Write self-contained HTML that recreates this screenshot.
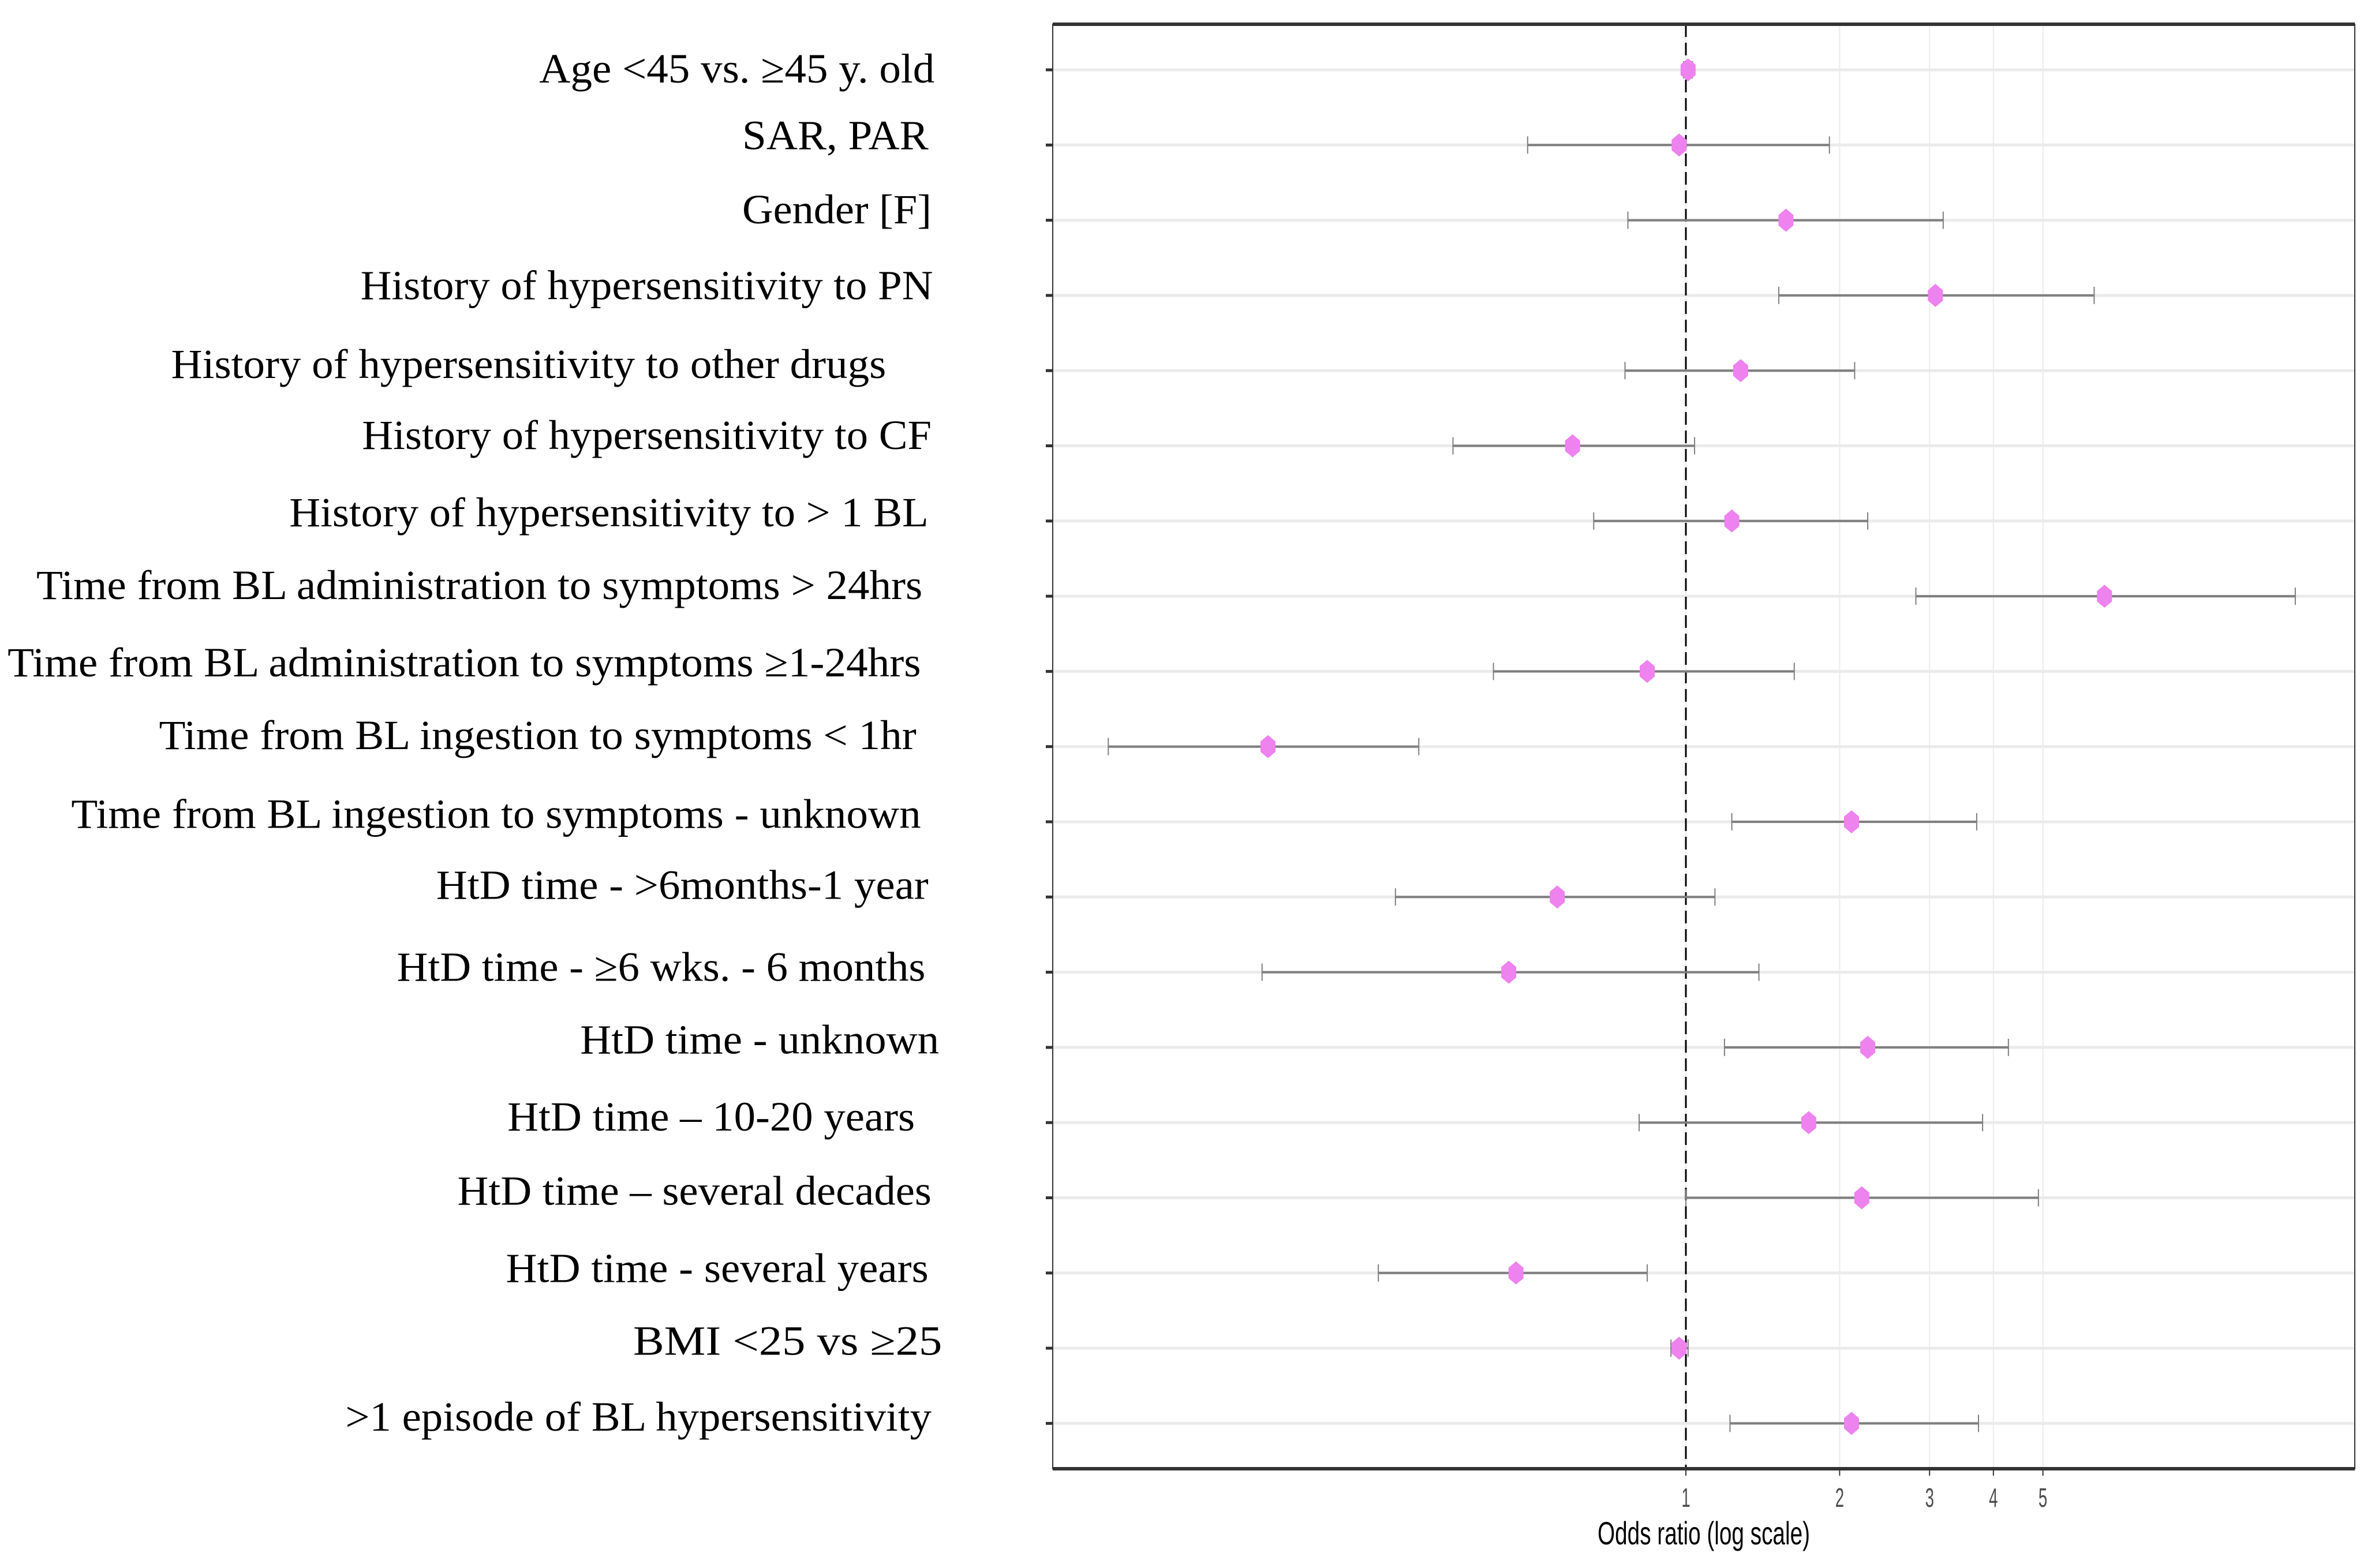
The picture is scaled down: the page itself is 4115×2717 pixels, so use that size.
<!DOCTYPE html>
<html><head><meta charset="utf-8"><style>
html,body{margin:0;padding:0;background:#fff;}
svg{display:block;}
</style></head><body>
<svg id="chart" width="4115" height="2717" viewBox="0 0 4115 2717" xmlns="http://www.w3.org/2000/svg">
<rect x="0" y="0" width="4115" height="2717" fill="#fff"/>
<g id="grid"></g>
<g id="marks"></g>
<g id="labels"></g>
<g id="axis"></g>
</svg>
<script>
const categories = [
 "Age <45 vs. \u226545 y. old","SAR, PAR","Gender [F]","History of hypersensitivity to PN",
 "History of hypersensitivity to other drugs","History of hypersensitivity to CF",
 "History of hypersensitivity to > 1 BL","Time from BL administration to symptoms > 24hrs",
 "Time from BL administration to symptoms \u22651-24hrs","Time from BL ingestion to symptoms < 1hr",
 "Time from BL ingestion to symptoms - unknown","HtD time - >6months-1 year",
 "HtD time - \u22656 wks. - 6 months","HtD time - unknown","HtD time \u2013 10-20 years",
 "HtD time \u2013 several decades","HtD time - several years","BMI <25 vs   \u226525",
 ">1 episode of BL hypersensitivity"];
const oddsRatio = [1.01,0.97,1.57,3.08,1.28,0.60,1.23,6.6,0.84,0.152,2.11,0.56,0.45,2.27,1.74,2.21,0.465,0.97,2.11];
const ciLower   = [0.99,0.49,0.77,1.52,0.76,0.35,0.66,2.82,0.42,0.074,1.23,0.27,0.148,1.19,0.81,1.00,0.25,0.935,1.22];
const ciUpper   = [1.03,1.91,3.19,6.3,2.14,1.04,2.27,15.6,1.63,0.30,3.71,1.14,1.39,4.28,3.81,4.9,0.84,1.01,3.74];
const xTicks = [1,2,3,4,5];
const xTickLabels = ["1","2","3","4","5"];

const NS="http://www.w3.org/2000/svg";
const S=4115/1568;
const P={left:1824,right:4080,top:42,bottom:2545};
function xScale(v){return 2921+885*Math.log10(v);}
function yScale(i){return 121+i*130.3;}
function mk(tag,attrs,parent){const e=document.createElementNS(NS,tag);for(const k in attrs)e.setAttribute(k,attrs[k]);parent.appendChild(e);return e;}
const grid=document.getElementById('grid'),marks=document.getElementById('marks'),labels=document.getElementById('labels'),axis=document.getElementById('axis');

xTicks.forEach((t,i)=>{
 const l=mk('line',{x1:xScale(t),x2:xScale(t),y1:P.top,y2:P.bottom,stroke:'#ebebeb','stroke-width':2},grid);
 
 
});
categories.forEach((c,i)=>{
 const l=mk('line',{x1:P.left,x2:P.right,y1:yScale(i),y2:yScale(i),stroke:'#ebebeb','stroke-width':5},grid);
 
 
});
const ref=mk('line',{x1:xScale(1),x2:xScale(1),y1:P.top,y2:P.bottom,stroke:'#000','stroke-width':3,'stroke-dasharray':'22,10'},grid);



categories.forEach((c,i)=>{
 const y=yScale(i),lo=xScale(ciLower[i]),hi=xScale(ciUpper[i]),pt=xScale(oddsRatio[i]);
 const g=mk('g',{},marks);
 
 
 const ci=mk('line',{x1:lo,x2:hi,y1:y,y2:y,stroke:'#7f7f7f','stroke-width':4},g);
 
 
 [lo,hi].forEach(x=>{
  const cap=mk('line',{x1:x,x2:x,y1:y-15,y2:y+15,stroke:'#7f7f7f','stroke-width':2},g);
  
  
 });
 const p=mk('polygon',{points:`${pt},${y-20} ${pt+13},${y-9} ${pt+13},${y+9} ${pt},${y+20} ${pt-13},${y+9} ${pt-13},${y-9}`,fill:'#ee82ee'},g);
 
 
});

const labLeft=[356,490,490,238,113,239,191,24,5,105,47,288,262,383,335,302,334,418,228];
const labRight=[617,613,615,616,585,615,613,609,608,605,608,613,611,620,604,615,613,622,615];
const labCy=[45,89,138,188,240,287,338,386,437,485,537,584,638,686,737,786,837,885,935];
categories.forEach((c,i)=>{
 const t=mk('text',{x:labLeft[i]*S,y:labCy[i]*S+25,'font-family':'"Liberation Serif",serif','font-size':72,fill:'#000',textLength:(labRight[i]-labLeft[i])*S,lengthAdjust:'spacingAndGlyphs'},labels);
 t.textContent=c;
 
 
 const tk=mk('line',{x1:P.left-12,x2:P.left,y1:yScale(i),y2:yScale(i),stroke:'#333','stroke-width':5},axis);
 
 
});

const b1=mk('rect',{x:P.left,y:P.top,width:P.right-P.left,height:P.bottom-P.top,fill:'none',stroke:'#333','stroke-width':2},axis);


const bt=mk('line',{x1:P.left,x2:P.right,y1:P.top,y2:P.top,stroke:'#333','stroke-width':6},axis);


const bb=mk('line',{x1:P.left,x2:P.right,y1:P.bottom,y2:P.bottom,stroke:'#333','stroke-width':6},axis);



xTicks.forEach((t,i)=>{
 const x=xScale(t);
 const tk=mk('line',{x1:x,x2:x,y1:P.bottom,y2:P.bottom+12,stroke:'#333','stroke-width':2},axis);
 
 
 const lb=mk('text',{x:x,y:P.bottom+66,'text-anchor':'middle','font-family':'"Liberation Sans",sans-serif','font-size':46,fill:'#4d4d4d',transform:`translate(${x},0) scale(0.6,1) translate(${-x},0)`},axis);
 lb.textContent=xTickLabels[i];
 
 
});
const title=mk('text',{x:2768,y:2676,'font-family':'"Liberation Sans",sans-serif','font-size':56,fill:'#000',textLength:368,lengthAdjust:'spacingAndGlyphs'},axis);
title.textContent='Odds ratio (log scale)';


</script>
</body></html>
